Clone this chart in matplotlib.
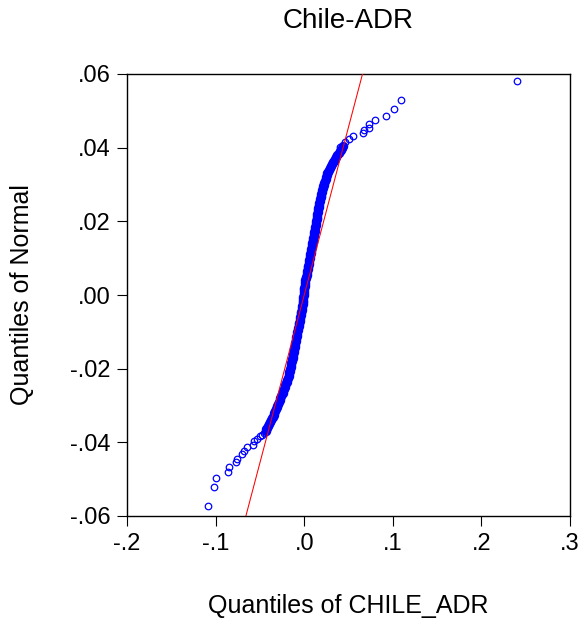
import matplotlib
matplotlib.use('Agg')
import matplotlib.pyplot as plt

plt.rcParams['font.family'] = ['Liberation Sans', 'DejaVu Sans']

# quantiles of the data (x) against quantiles of the normal (y)
dense_y = [0.0405, 0.0400, 0.0395, 0.0390, 0.0385, 0.0380, 0.0375, 0.0370, 0.0365, 0.0360,
           0.0355, 0.0350, 0.0345, 0.0340, 0.0335, 0.0330, 0.0325, 0.0320, 0.0315, 0.0310,
           0.0305, 0.0300, 0.0295, 0.0290, 0.0285, 0.0280, 0.0275, 0.0270, 0.0265, 0.0260,
           0.0255, 0.0250, 0.0245, 0.0240, 0.0235, 0.0230, 0.0225, 0.0220, 0.0215, 0.0210,
           0.0205, 0.0200, 0.0195, 0.0190, 0.0185, 0.0180, 0.0175, 0.0170, 0.0165, 0.0160,
           0.0155, 0.0150, 0.0145, 0.0140, 0.0135, 0.0130, 0.0125, 0.0120, 0.0115, 0.0110,
           0.0105, 0.0100, 0.0095, 0.0090, 0.0085, 0.0080, 0.0075, 0.0070, 0.0065, 0.0060,
           0.0055, 0.0050, 0.0045, 0.0040, 0.0035, 0.0030, 0.0025, 0.0020, 0.0015, 0.0010,
           0.0005, 0.0000, -0.0005, -0.0010, -0.0015, -0.0020, -0.0025, -0.0030, -0.0035, -0.0040,
           -0.0045, -0.0050, -0.0055, -0.0060, -0.0065, -0.0070, -0.0075, -0.0080, -0.0085, -0.0090,
           -0.0095, -0.0100, -0.0105, -0.0110, -0.0115, -0.0120, -0.0125, -0.0130, -0.0135, -0.0140,
           -0.0145, -0.0150, -0.0155, -0.0160, -0.0165, -0.0170, -0.0175, -0.0180, -0.0185, -0.0190,
           -0.0195, -0.0200, -0.0205, -0.0210, -0.0215, -0.0220, -0.0225, -0.0230, -0.0235, -0.0240,
           -0.0245, -0.0250, -0.0255, -0.0260, -0.0265, -0.0270, -0.0275, -0.0280, -0.0285, -0.0290,
           -0.0295, -0.0300, -0.0305, -0.0310, -0.0315, -0.0320, -0.0325, -0.0330, -0.0335, -0.0340,
           -0.0345, -0.0350, -0.0355, -0.0360, -0.0365, -0.0370]
dense_x = [0.0435, 0.0424, 0.0412, 0.0400, 0.0388, 0.0375, 0.0362, 0.0349, 0.0336, 0.0324,
           0.0312, 0.0300, 0.0289, 0.0279, 0.0270, 0.0262, 0.0255, 0.0248, 0.0241, 0.0235,
           0.0228, 0.0222, 0.0216, 0.0209, 0.0203, 0.0198, 0.0194, 0.0189, 0.0185, 0.0180,
           0.0176, 0.0171, 0.0167, 0.0163, 0.0159, 0.0156, 0.0153, 0.0149, 0.0146, 0.0142,
           0.0139, 0.0136, 0.0132, 0.0129, 0.0125, 0.0122, 0.0119, 0.0115, 0.0111, 0.0108,
           0.0104, 0.0100, 0.0096, 0.0092, 0.0089, 0.0085, 0.0081, 0.0077, 0.0073, 0.0070,
           0.0066, 0.0062, 0.0058, 0.0054, 0.0050, 0.0046, 0.0042, 0.0038, 0.0034, 0.0030,
           0.0026, 0.0022, 0.0018, 0.0014, 0.0010, 0.0007, 0.0004, 0.0002, 0.0000, -0.0002,
           -0.0005, -0.0007, -0.0009, -0.0011, -0.0013, -0.0016, -0.0018, -0.0020, -0.0024, -0.0028,
           -0.0032, -0.0036, -0.0040, -0.0044, -0.0048, -0.0052, -0.0056, -0.0060, -0.0064, -0.0068,
           -0.0072, -0.0077, -0.0081, -0.0085, -0.0089, -0.0093, -0.0096, -0.0100, -0.0104, -0.0108,
           -0.0112, -0.0116, -0.0120, -0.0124, -0.0128, -0.0132, -0.0136, -0.0141, -0.0145, -0.0149,
           -0.0153, -0.0158, -0.0162, -0.0166, -0.0170, -0.0176, -0.0184, -0.0191, -0.0199, -0.0206,
           -0.0213, -0.0221, -0.0228, -0.0236, -0.0243, -0.0250, -0.0259, -0.0268, -0.0276, -0.0285,
           -0.0294, -0.0302, -0.0311, -0.0320, -0.0328, -0.0337, -0.0345, -0.0355, -0.0365, -0.0375,
           -0.0385, -0.0395, -0.0406, -0.0416, -0.0426, -0.0436]

# sparse tails
tail_x = [0.0406, 0.0463, 0.0504, 0.0550, 0.0662, 0.0670, 0.0730, 0.0737, 0.0801, 0.0918,
          0.1016, 0.1095, 0.2404,
          -0.0455, -0.0477, -0.0500, -0.0534, -0.0564, -0.0579, -0.0651, -0.0685, -0.0700,
          -0.0756, -0.0775, -0.0847, -0.0862, -0.1001, -0.1016, -0.1087]
tail_y = [0.0403, 0.0416, 0.0424, 0.0432, 0.0440, 0.0447, 0.0453, 0.0464, 0.0474, 0.0486,
          0.0504, 0.0529, 0.0581,
          -0.0375, -0.0379, -0.0384, -0.0390, -0.0396, -0.0408, -0.0414, -0.0423, -0.0432,
          -0.0444, -0.0454, -0.0466, -0.0480, -0.0497, -0.0522, -0.0574]

# reference line (x = slope * y)
line_y = [-0.06, 0.06]
line_slope = 1.097

xticks = [-0.2, -0.1, 0.0, 0.1, 0.2, 0.3]
xtick_labels = ['-.2', '-.1', '.0', '.1', '.2', '.3']
yticks = [-0.06, -0.04, -0.02, 0.0, 0.02, 0.04, 0.06]
ytick_labels = ['-.06', '-.04', '-.02', '.00', '.02', '.04', '.06']

fig = plt.figure(figsize=(5.82, 6.25), dpi=100)
ax = fig.add_axes([127 / 582, 1 - 516 / 625, 443 / 582, 442 / 625])

ax.plot([line_slope * v for v in line_y], line_y, color='red', lw=0.75, zorder=3)
# heavy overlap of many circles makes a solid band
ax.plot(dense_x, dense_y, 'o', ms=4.9, mfc='none', mec='blue', mew=1.9, zorder=2)
ax.plot(tail_x, tail_y, 'o', ms=4.7, mfc='none', mec='blue', mew=0.9, zorder=2)

ax.set_xlim(-0.2, 0.3)
ax.set_ylim(-0.06, 0.06)
ax.set_xticks(xticks)
ax.set_xticklabels(xtick_labels)
ax.set_yticks(yticks)
ax.set_yticklabels(ytick_labels)
ax.tick_params(direction='out', length=7, width=0.8, labelsize=17, pad=5,
               top=False, right=False)
for s in ax.spines.values():
    s.set_linewidth(1.0)

ax.set_xlabel('Quantiles of CHILE_ADR', fontsize=18, va='center')
ax.xaxis.set_label_coords(0.5, -0.2036)
ax.set_ylabel('Quantiles of Normal', fontsize=18, va='center')
ax.yaxis.set_label_coords(-0.2370, 0.5)

fig.text(348.5 / 582, 1 - 21 / 625, 'Chile-ADR', fontsize=20, ha='center', va='center')

fig.savefig('out.png', dpi=100)
